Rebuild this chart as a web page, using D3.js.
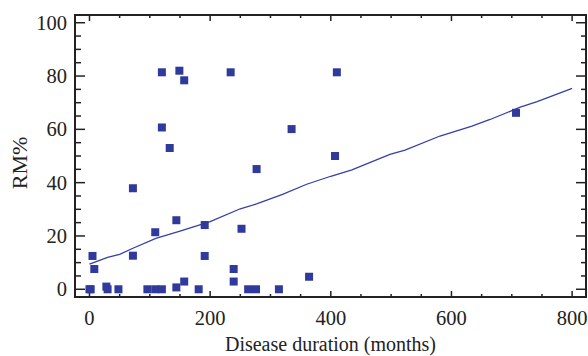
<!DOCTYPE html>
<html>
<head>
<meta charset="utf-8">
<script src="https://cdn.jsdelivr.net/npm/d3@7"></script>
<style>
  body { margin: 0; background: #fff; }
  svg text { font-family: "Liberation Serif", "Times New Roman", serif; fill: #222; }
</style>
</head>
<body>
<svg id="chart" width="588" height="356"></svg>
<script>
// scatter points: disease duration (months) vs RM%
var durations = [0, 2, 5, 8, 28, 30, 48, 72, 72, 96, 109, 109, 120, 120, 120, 133, 144, 144, 149, 157, 157,
                 181, 191, 191, 234, 239, 239, 252, 263, 276, 277, 314, 335, 364, 407, 410, 707];
var rmValues  = [0, 0, 12.5, 7.6, 1, 0, 0, 37.9, 12.6, 0, 21.4, 0, 0, 81.4, 60.7, 53, 25.9, 0.7, 82, 78.4, 2.9,
                 0, 24.1, 12.5, 81.4, 7.6, 2.9, 22.7, 0, 0, 45.1, 0, 60.1, 4.7, 50, 81.4, 66.2];

// smoothed trend line
var lineX = [0, 30, 50, 72, 110, 150, 200, 250, 277, 320, 360, 400, 435, 498, 523, 581, 634, 664, 714, 742, 800];
var lineY = [9.4, 12, 13.1, 15.4, 19.1, 21.8, 25.4, 30.2, 32.0, 35.6, 39.4, 42.4, 44.8, 50.6, 52.2, 57.5, 61.2, 63.7, 68.3, 70.4, 75.4];

var xTicks = [0, 200, 400, 600, 800];
var yTicks = [0, 20, 40, 60, 80, 100];

var plotL = 75, plotR = 586, plotT = 15, plotB = 297;
var svg = d3.select("#chart");

var x = d3.scaleLinear().domain([-24, 823]).range([plotL, plotR]);
var y = d3.scaleLinear().domain([-2.9, 102.9]).range([plotB, plotT]);

var xMinor = d3.range(0, 801, 50).filter(function(d){ return d % 200 !== 0; });
var yMinor = d3.range(0, 101, 5).filter(function(d){ return d % 20 !== 0; });

var ink = "#222";
var g = svg.append("g").attr("stroke", ink);

// ticks on all four sides, pointing inward
function drawXTicks(vals, len) {
    vals.forEach(function(v) {
        g.append("line").attr("x1", x(v)).attr("x2", x(v)).attr("y1", plotB).attr("y2", plotB - len).attr("stroke-width", 1.5);
        g.append("line").attr("x1", x(v)).attr("x2", x(v)).attr("y1", plotT).attr("y2", plotT + len).attr("stroke-width", 1.5);
    });
}
function drawYTicks(vals, lenL, lenR) {
    vals.forEach(function(v) {
        g.append("line").attr("x1", plotL).attr("x2", plotL + lenL).attr("y1", y(v)).attr("y2", y(v)).attr("stroke-width", 1.5);
        g.append("line").attr("x1", plotR).attr("x2", plotR - lenR).attr("y1", y(v)).attr("y2", y(v)).attr("stroke-width", 1.5);
    });
}
drawXTicks(xTicks, 6);
drawXTicks(xMinor, 3);
drawYTicks(yTicks, 10, 10);
drawYTicks(yMinor, 6, 5);

g.append("rect").attr("x", plotL).attr("y", plotT).attr("width", plotR - plotL).attr("height", plotB - plotT)
  .attr("fill", "none").attr("stroke-width", 2);

// tick labels
svg.selectAll("text.xl").data(xTicks).enter().append("text")
   .attr("class", "xl").attr("x", function(d){ return x(d); }).attr("y", 325)
   .attr("text-anchor", "middle").attr("font-size", 20.5).text(function(d){ return d; });
svg.selectAll("text.yl").data(yTicks).enter().append("text")
   .attr("class", "yl").attr("x", 67).attr("y", function(d){ return y(d) + 7; })
   .attr("text-anchor", "end").attr("font-size", 20.5).text(function(d){ return d; });

svg.append("text").attr("x", (plotL + plotR) / 2).attr("y", 351).attr("text-anchor", "middle")
   .attr("font-size", 20).text("Disease duration (months)");
svg.append("text").attr("transform", "translate(27,163) rotate(-90)").attr("text-anchor", "middle")
   .attr("font-size", 22).text("RM%");

// trend line
var line = d3.line().x(function(d){ return x(d[0]); }).y(function(d){ return y(d[1]); });
svg.append("path").datum(d3.zip(lineX, lineY)).attr("d", line)
   .attr("fill", "none").attr("stroke", "#3340a8").attr("stroke-width", 1.3);

// points
var s = 8;
svg.selectAll("rect.pt").data(d3.zip(durations, rmValues)).enter().append("rect")
   .attr("class", "pt")
   .attr("x", function(d){ return x(d[0]) - s / 2; })
   .attr("y", function(d){ return y(d[1]) - s / 2; })
   .attr("width", s).attr("height", s)
   .attr("fill", "#2f3a9c");
</script>
</body>
</html>
